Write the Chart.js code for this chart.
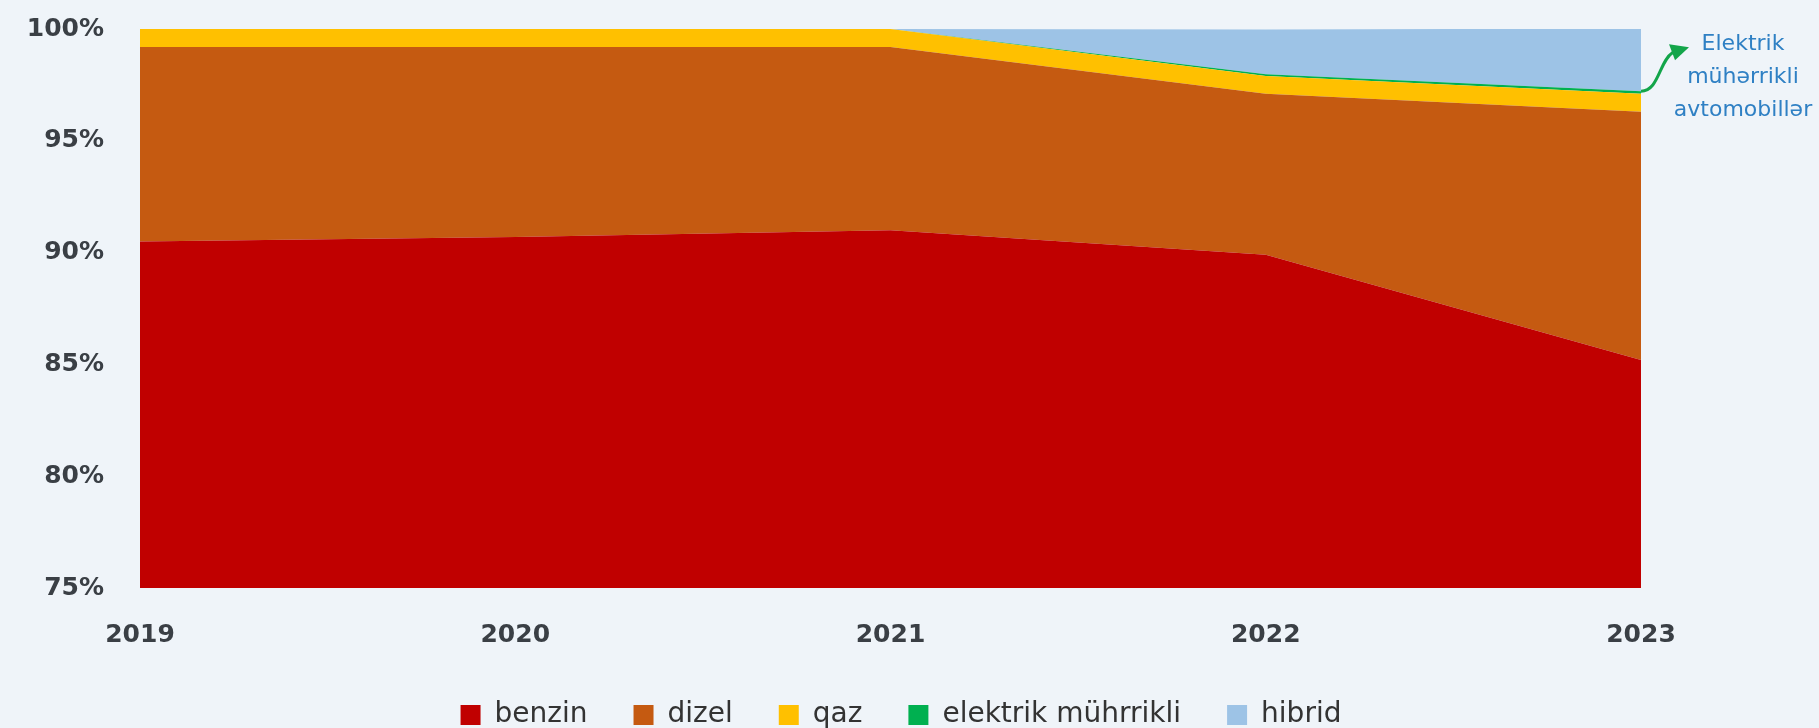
<!DOCTYPE html>
<html>
<head>
<meta charset="utf-8">
<script src="https://cdn.jsdelivr.net/npm/chart.js@4"></script>
<style>
    html, body { margin: 0; padding: 0; background: #eff4f9; }
    #wrap { width: 1819px; height: 728px; }
</style>
</head>
<body>
<div id="wrap"><canvas id="chart" width="1819" height="728"></canvas></div>
<script>
const years = ['2019', '2020', '2021', '2022', '2023'];
const benzin = [90.5, 90.7, 91.0, 89.9, 85.2];
const dizel = [8.7, 8.5, 8.2, 7.2, 11.1];
const qaz = [0.8, 0.8, 0.8, 0.8, 0.8];
const elektrik = [0, 0, 0, 0.08, 0.12];
const hibrid = [0, 0, 0, 2.0, 2.8];
const yTicks = [75, 80, 85, 90, 95, 100];

/* Arrow + note pointing at the electric car line */
const notePlugin = {
    id: 'note',
    afterDraw(chart) {
        const ctx = chart.ctx;
        const last = years.length - 1;
        const top = benzin[last] + dizel[last] + qaz[last] + elektrik[last];
        const x0 = chart.scales.x.getPixelForValue(last);
        const y0 = chart.scales.y.getPixelForValue(top);

        ctx.save();
        ctx.strokeStyle = '#13a54a';
        ctx.fillStyle = '#13a54a';
        ctx.lineWidth = 3;
        ctx.beginPath();
        ctx.moveTo(x0, y0);
        ctx.bezierCurveTo(x0 + 18, y0, x0 + 18, y0 - 30, x0 + 32, y0 - 39);
        ctx.stroke();
        ctx.beginPath();
        ctx.moveTo(x0 + 48, y0 - 44);
        ctx.lineTo(x0 + 28, y0 - 47);
        ctx.lineTo(x0 + 34, y0 - 31);
        ctx.closePath();
        ctx.fill();

        ctx.fillStyle = '#2f80c4';
        ctx.font = '22px "DejaVu Sans"';
        ctx.textAlign = 'center';
        ctx.textBaseline = 'middle';
        ['Elektrik', 'mühərrikli', 'avtomobillər'].forEach((t, i) => {
            ctx.fillText(t, 1743, 44 + i * 33);
        });
        ctx.restore();
    }
};

function area(label, data, color, fill) {
    return {
        label: label,
        data: data,
        backgroundColor: color,
        borderColor: color,
        borderWidth: 0,
        pointRadius: 0,
        tension: 0,
        fill: fill
    };
}

new Chart(document.getElementById('chart'), {
    type: 'line',
    data: {
        labels: years,
        datasets: [
            area('benzin', benzin, '#c00000', 'start'),
            area('dizel', dizel, '#c55a11', '-1'),
            area('qaz', qaz, '#ffc000', '-1'),
            area('elektrik mührrikli', elektrik, '#00b050', '-1'),
            area('hibrid', hibrid, '#9dc3e6', '-1')
        ]
    },
    options: {
        responsive: false,
        animation: false,
        layout: { padding: { left: 0, right: 17, top: 0, bottom: 0 } },
        plugins: {
            tooltip: { enabled: false },
            legend: {
                position: 'bottom',
                maxHeight: 73,
                labels: {
                    font: { family: 'DejaVu Sans', size: 28 },
                    color: '#333333',
                    boxWidth: 20,
                    boxHeight: 20,
                    padding: 46
                }
            }
        },
        scales: {
            x: {
                grid: { display: false, drawTicks: false },
                border: { display: false },
                ticks: {
                    font: { family: 'DejaVu Sans', size: 25, weight: 'bold' },
                    color: '#3a3f45',
                    padding: 32,
                    maxRotation: 0
                },
                afterFit(scale) {
                    scale.height = 67;
                    scale.paddingRight = 178;
                }
            },
            y: {
                stacked: true,
                min: 75,
                max: 100,
                grid: { display: false, drawTicks: false },
                border: { display: false },
                afterBuildTicks(scale) {
                    scale.ticks = yTicks.map(v => ({ value: v }));
                },
                ticks: {
                    font: { family: 'DejaVu Sans', size: 25, weight: 'bold' },
                    color: '#3a3f45',
                    padding: 36,
                    callback: v => v + '%'
                },
                afterFit(scale) {
                    scale.width = 140;
                    scale.paddingTop = 29;
                }
            }
        }
    },
    plugins: [notePlugin]
});
</script>
</body>
</html>
